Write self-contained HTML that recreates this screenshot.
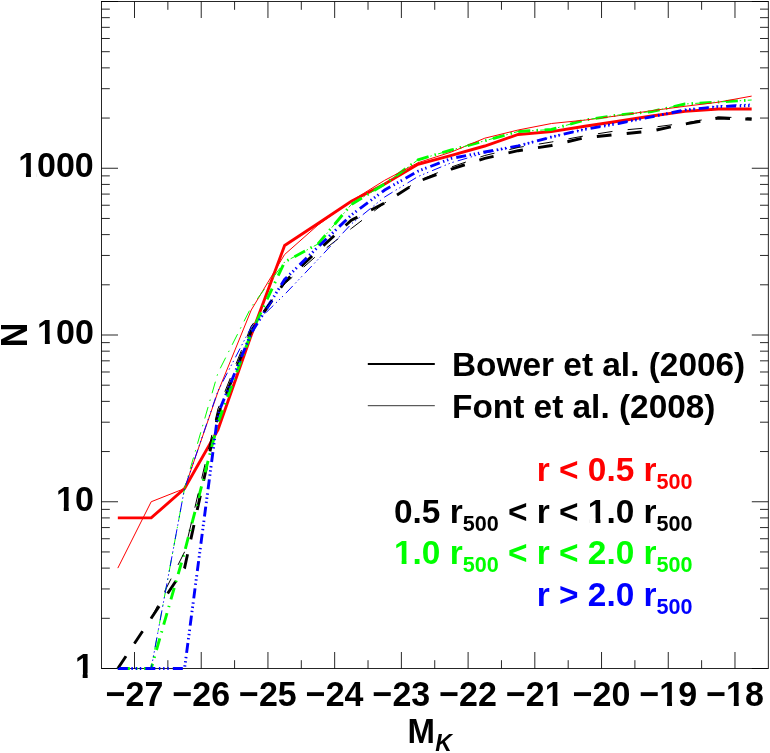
<!DOCTYPE html>
<html><head><meta charset="utf-8"><title>plot</title>
<style>html,body{margin:0;padding:0;background:#fff}svg{display:block;will-change:transform}text{font-family:"Liberation Sans",sans-serif;font-weight:bold;font-kerning:none;white-space:pre}</style></head><body>
<svg width="770" height="753" viewBox="0 0 770 753">
<rect x="0" y="0" width="770" height="753" fill="#fff"/>
<rect x="101.5" y="1.5" width="666.8" height="667.0" fill="none" stroke="#000" stroke-width="0.85"/>
<path d="M134.50 668.5v-16.5M134.50 1.5v16.5M167.86 668.5v-8.3M167.86 1.5v8.3M201.22 668.5v-16.5M201.22 1.5v16.5M234.58 668.5v-8.3M234.58 1.5v8.3M267.94 668.5v-16.5M267.94 1.5v16.5M301.30 668.5v-8.3M301.30 1.5v8.3M334.66 668.5v-16.5M334.66 1.5v16.5M368.02 668.5v-8.3M368.02 1.5v8.3M401.38 668.5v-16.5M401.38 1.5v16.5M434.74 668.5v-8.3M434.74 1.5v8.3M468.10 668.5v-16.5M468.10 1.5v16.5M501.46 668.5v-8.3M501.46 1.5v8.3M534.82 668.5v-16.5M534.82 1.5v16.5M568.18 668.5v-8.3M568.18 1.5v8.3M601.54 668.5v-16.5M601.54 1.5v16.5M634.90 668.5v-8.3M634.90 1.5v8.3M668.26 668.5v-16.5M668.26 1.5v16.5M701.62 668.5v-8.3M701.62 1.5v8.3M734.98 668.5v-16.5M734.98 1.5v16.5M101.5 668.50h16.5M768.3 668.50h-16.5M101.5 618.30h8.3M768.3 618.30h-8.3M101.5 588.94h8.3M768.3 588.94h-8.3M101.5 568.11h8.3M768.3 568.11h-8.3M101.5 551.95h8.3M768.3 551.95h-8.3M101.5 538.74h8.3M768.3 538.74h-8.3M101.5 527.58h8.3M768.3 527.58h-8.3M101.5 517.91h8.3M768.3 517.91h-8.3M101.5 509.38h8.3M768.3 509.38h-8.3M101.5 501.75h16.5M768.3 501.75h-16.5M101.5 451.55h8.3M768.3 451.55h-8.3M101.5 422.19h8.3M768.3 422.19h-8.3M101.5 401.36h8.3M768.3 401.36h-8.3M101.5 385.20h8.3M768.3 385.20h-8.3M101.5 371.99h8.3M768.3 371.99h-8.3M101.5 360.83h8.3M768.3 360.83h-8.3M101.5 351.16h8.3M768.3 351.16h-8.3M101.5 342.63h8.3M768.3 342.63h-8.3M101.5 335.00h16.5M768.3 335.00h-16.5M101.5 284.80h8.3M768.3 284.80h-8.3M101.5 255.44h8.3M768.3 255.44h-8.3M101.5 234.61h8.3M768.3 234.61h-8.3M101.5 218.45h8.3M768.3 218.45h-8.3M101.5 205.24h8.3M768.3 205.24h-8.3M101.5 194.08h8.3M768.3 194.08h-8.3M101.5 184.41h8.3M768.3 184.41h-8.3M101.5 175.88h8.3M768.3 175.88h-8.3M101.5 168.25h16.5M768.3 168.25h-16.5M101.5 118.05h8.3M768.3 118.05h-8.3M101.5 88.69h8.3M768.3 88.69h-8.3M101.5 67.86h8.3M768.3 67.86h-8.3M101.5 51.70h8.3M768.3 51.70h-8.3M101.5 38.49h8.3M768.3 38.49h-8.3M101.5 27.33h8.3M768.3 27.33h-8.3M101.5 17.66h8.3M768.3 17.66h-8.3M101.5 9.13h8.3M768.3 9.13h-8.3M101.5 1.50h16.5M768.3 1.50h-16.5" stroke="#000" stroke-width="0.85" fill="none"/>
<polyline points="117.82,517.91 151.18,517.91 184.54,488.55 217.90,430.00 251.26,335.00 284.62,245.50 317.98,223.50 351.34,201.20 384.70,184.00 418.06,164.30 451.42,155.40 484.78,146.00 518.14,134.50 551.50,131.60 584.86,126.20 618.22,121.30 651.58,116.00 684.94,111.40 718.30,109.00 751.66,109.00" fill="none" stroke="#ff0000" stroke-width="2.9" stroke-linejoin="miter"/>
<polyline points="117.82,668.50 151.18,618.30 184.54,568.11 217.90,415.00 251.26,331.00 284.62,282.00 317.98,250.50 351.34,220.30 384.70,203.00 418.06,181.50 451.42,169.00 484.78,158.40 518.14,150.70 551.50,145.50 584.86,137.70 618.22,134.30 651.58,131.00 684.94,124.00 718.30,118.00 751.66,119.30" fill="none" stroke="#000000" stroke-width="2.9" stroke-linejoin="miter" stroke-dasharray="14.7 15.3"/>
<polyline points="117.82,668.50 151.18,668.50 184.54,551.95 217.90,423.00 251.26,333.00 284.62,262.00 317.98,244.00 351.34,204.40 384.70,184.00 418.06,159.80 451.42,150.00 484.78,140.80 518.14,131.50 551.50,129.50 584.86,120.00 618.22,115.00 651.58,111.60 684.94,104.00 718.30,102.00 751.66,100.00" fill="none" stroke="#00ff00" stroke-width="2.9" stroke-linejoin="miter" stroke-dasharray="12 6.2 1.5 6.6"/>
<polyline points="117.82,668.50 151.18,668.50 184.54,668.50 217.90,414.00 251.26,333.00 284.62,279.50 317.98,247.00 351.34,215.00 384.70,190.00 418.06,171.20 451.42,158.40 484.78,152.00 518.14,146.00 551.50,137.00 584.86,129.30 618.22,123.50 651.58,116.80 684.94,110.00 718.30,106.60 751.66,105.60" fill="none" stroke="#0000ff" stroke-width="2.9" stroke-linejoin="miter" stroke-dasharray="10 3.6 1.4 2.8 1.4 2.8 1.4 4.1"/>
<polyline points="117.82,568.11 151.18,501.75 184.54,488.55 217.90,392.00 251.26,310.00 284.62,254.50 317.98,225.00 351.34,201.00 384.70,180.30 418.06,162.70 451.42,152.00 484.78,138.20 518.14,130.00 551.50,123.50 584.86,120.10 618.22,115.70 651.58,110.70 684.94,106.30 718.30,102.20 751.66,96.10" fill="none" stroke="#ff0000" stroke-width="1.0" stroke-linejoin="miter"/>
<polyline points="117.82,668.50 151.18,618.30 184.54,551.95 217.90,409.00 251.26,326.00 284.62,284.00 317.98,254.50 351.34,228.50 384.70,203.00 418.06,180.80 451.42,167.00 484.78,155.50 518.14,147.50 551.50,142.00 584.86,135.80 618.22,130.50 651.58,127.50 684.94,123.00 718.30,117.00 751.66,118.00" fill="none" stroke="#000000" stroke-width="1.0" stroke-linejoin="miter" stroke-dasharray="14.7 15.3"/>
<polyline points="117.82,668.50 151.18,668.50 184.54,488.55 217.90,373.00 251.26,307.00 284.62,262.00 317.98,244.00 351.34,204.40 384.70,184.00 418.06,159.80 451.42,150.00 484.78,140.80 518.14,131.50 551.50,129.50 584.86,120.00 618.22,115.00 651.58,111.60 684.94,104.00 718.30,102.00 751.66,100.00" fill="none" stroke="#00ff00" stroke-width="1.0" stroke-linejoin="miter" stroke-dasharray="12 6.2 1.5 6.6"/>
<polyline points="117.82,668.50 151.18,668.50 184.54,488.55 217.90,391.00 251.26,327.00 284.62,294.50 317.98,259.50 351.34,224.00 384.70,197.00 418.06,176.50 451.42,162.70 484.78,153.00 518.14,146.00 551.50,137.00 584.86,129.00 618.22,123.00 651.58,117.00 684.94,110.00 718.30,106.00 751.66,104.00" fill="none" stroke="#0000ff" stroke-width="1.0" stroke-linejoin="miter" stroke-dasharray="10 3.6 1.4 2.8 1.4 2.8 1.4 4.1"/>
<text transform="translate(105.66,706.20) scale(1,1.045)" font-size="34" fill="#000">−27</text>
<text transform="translate(172.38,706.20) scale(1,1.045)" font-size="34" fill="#000">−26</text>
<text transform="translate(239.10,706.20) scale(1,1.045)" font-size="34" fill="#000">−25</text>
<text transform="translate(305.82,706.20) scale(1,1.045)" font-size="34" fill="#000">−24</text>
<text transform="translate(372.54,706.20) scale(1,1.045)" font-size="34" fill="#000">−23</text>
<text transform="translate(439.26,706.20) scale(1,1.045)" font-size="34" fill="#000">−22</text>
<text transform="translate(505.98,706.20) scale(1,1.045)" font-size="34" fill="#000">−21</text>
<text transform="translate(572.70,706.20) scale(1,1.045)" font-size="34" fill="#000">−20</text>
<text transform="translate(639.42,706.20) scale(1,1.045)" font-size="34" fill="#000">−19</text>
<text transform="translate(706.14,706.20) scale(1,1.045)" font-size="34" fill="#000">−18</text>
<text transform="translate(18.16,177.45) scale(1,1.045)" font-size="34" fill="#000">1000</text>
<text transform="translate(37.07,344.20) scale(1,1.045)" font-size="34" fill="#000">100</text>
<text transform="translate(55.98,510.95) scale(1,1.045)" font-size="34" fill="#000">10</text>
<text transform="translate(74.89,677.70) scale(1,1.045)" font-size="34" fill="#000">1</text>
<text transform="translate(27.2,335.0) rotate(-90) scale(1,1.07)" font-size="34" text-anchor="middle">N</text>
<text transform="translate(407.50,742.60) scale(1,1.05)" font-size="33" fill="#000">M</text>
<text x="435.2" y="751.2" font-size="23" font-style="italic">K</text>
<path d="M367.8 364H434.8" stroke="#000" stroke-width="2"/>
<path d="M367.8 405.7H434.8" stroke="#000" stroke-width="0.8"/>
<text x="452.00" y="376.40" font-size="33.4" fill="#000">Bower et al. (2006)</text>
<text x="452.00" y="417.90" font-size="33.4" fill="#000">Font et al. (2008)</text>
<text x="536.79" y="481.00" font-size="33.4" fill="#ff0000">r &lt; 0.5 r</text>
<text x="656.56" y="489.30" font-size="21.6" fill="#ff0000">500</text>
<text x="393.98" y="522.50" font-size="33.4" fill="#000000">0.5 r</text>
<text x="462.69" y="530.80" font-size="21.6" fill="#000000">500</text>
<text x="498.73" y="522.50" font-size="33.4" fill="#000000"> &lt; r &lt; 1.0 r</text>
<text x="656.56" y="530.80" font-size="21.6" fill="#000000">500</text>
<text x="393.98" y="564.00" font-size="33.4" fill="#00ff00">1.0 r</text>
<text x="462.69" y="572.30" font-size="21.6" fill="#00ff00">500</text>
<text x="498.73" y="564.00" font-size="33.4" fill="#00ff00"> &lt; r &lt; 2.0 r</text>
<text x="656.56" y="572.30" font-size="21.6" fill="#00ff00">500</text>
<text x="536.79" y="605.50" font-size="33.4" fill="#0000ff">r &gt; 2.0 r</text>
<text x="656.56" y="613.80" font-size="21.6" fill="#0000ff">500</text>
<path d="M546.29 701.87H552.53V707.00H546.29ZM557.50 701.87H563.31V707.00H557.50ZM660.82 701.87H667.06V707.00H660.82ZM672.03 701.87H677.84V707.00H672.03ZM727.54 701.87H733.78V707.00H727.54ZM738.75 701.87H744.56V707.00H738.75ZM19.70 173.12H25.95V178.25H19.70ZM30.91 173.12H36.73V178.25H30.91ZM38.61 339.87H44.86V345.00H38.61ZM49.82 339.87H55.64V345.00H49.82ZM57.52 506.62H63.77V511.75H57.52ZM68.73 506.62H74.54V511.75H68.73ZM76.43 673.37H82.68V678.50H76.43ZM87.64 673.37H93.45V678.50H87.64ZM589.36 518.39H595.50V523.30H589.36ZM600.38 518.39H606.10V523.30H600.38ZM395.48 559.89H401.63V564.80H395.48ZM406.51 559.89H412.23V564.80H406.51Z" fill="#fff" stroke="none"/>
</svg></body></html>
